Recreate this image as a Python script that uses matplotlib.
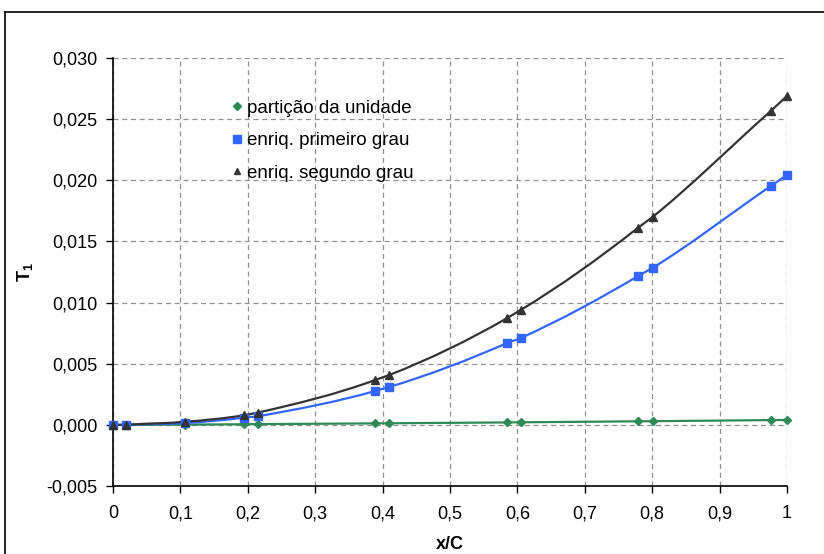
import matplotlib
matplotlib.use("Agg")
import matplotlib.pyplot as plt
from matplotlib.path import Path
from matplotlib.patches import PathPatch
from matplotlib.lines import Line2D
from matplotlib.ticker import FuncFormatter, MultipleLocator

plt.rcParams['font.family'] = ['Liberation Sans', 'DejaVu Sans']

# data
x_pos = [0.0, 0.02, 0.107, 0.195, 0.215, 0.389, 0.41, 0.585, 0.605, 0.779, 0.801, 0.976, 1.0]
t_particao = [0.0, 0.0, 0.00002, 0.00005, 0.00006, 0.00012, 0.00013, 0.00020, 0.00021, 0.00029, 0.00030, 0.00039, 0.00040]
t_primeiro = [0.0, 0.0, 0.00015, 0.0006, 0.0007, 0.00277, 0.0031, 0.0067, 0.0071, 0.01217, 0.01285, 0.01953, 0.02044]
t_segundo = [0.0, 0.0, 0.00025, 0.0008, 0.0010, 0.00367, 0.00408, 0.00874, 0.0094, 0.01612, 0.01702, 0.02567, 0.0269]
labels = ["partição da unidade", "enriq. primeiro grau", "enriq. segundo grau"]
colors = ["#2E8B57", "#3366FF", "#333333"]
markers = ["D", "s", "^"]
msizes = [4.5, 6, 5.5]

fig = plt.figure(figsize=(8.24, 5.54), dpi=100)
ax = fig.add_axes([113/824, 1-486/554, (787-113)/824, (486-58)/554])


def smooth_path(xs, ys):
    # smooth line drawn through the data points (cubic Hermite segments)
    n = len(xs)
    m = []
    for i in range(n):
        a = max(i - 2, 0)
        b = min(i + 2, n - 1)
        m.append((ys[b] - ys[a]) / (xs[b] - xs[a]))
    verts = [(xs[0], ys[0])]
    codes = [Path.MOVETO]
    for i in range(n - 1):
        h = xs[i + 1] - xs[i]
        c1 = (xs[i] + h / 3, ys[i] + m[i] * h / 3)
        c2 = (xs[i + 1] - h / 3, ys[i + 1] - m[i + 1] * h / 3)
        verts += [c1, c2, (xs[i + 1], ys[i + 1])]
        codes += [Path.CURVE4] * 3
    return Path(verts, codes)


series = [t_particao, t_primeiro, t_segundo]
handles = []
for ys, c, mk, ms, lab in zip(series, colors, markers, msizes, labels):
    ax.add_patch(PathPatch(smooth_path(x_pos, ys), fill=False, edgecolor=c, lw=1.6, zorder=3))
    ax.plot(x_pos, ys, linestyle='none', marker=mk, color=c, markersize=ms, zorder=4, clip_on=False)
    handles.append(Line2D([], [], linestyle='none', marker=mk, color=c, markersize=ms * 0.85, label=lab))

ax.set_xlim(0, 1)
ax.set_ylim(-0.005, 0.030)
ax.xaxis.set_major_locator(MultipleLocator(0.1))
ax.yaxis.set_major_locator(MultipleLocator(0.005))


def fx(v, p):
    s = "%.1f" % v
    if s.endswith(".0"):
        s = s[:-2]
    return s.replace(".", ",")


def fy(v, p):
    s = "%.3f" % v
    if s == "-0.000":
        s = "0.000"
    return s.replace(".", ",")


ax.xaxis.set_major_formatter(FuncFormatter(fx))
ax.yaxis.set_major_formatter(FuncFormatter(fy))
ax.tick_params(axis='both', labelsize=13, direction='out', length=5, width=1, colors='black')
ax.tick_params(axis='x', pad=9)
ax.tick_params(axis='y', pad=6)
ax.grid(True, linestyle=(0, (4, 3)), color='#909090', lw=0.9)
for s in ['top', 'right']:
    ax.spines[s].set_visible(False)
for s in ['left', 'bottom']:
    ax.spines[s].set_linewidth(1.2)
    ax.spines[s].set_color('black')

ax.set_xlabel("x/C", fontsize=13, fontweight='bold', labelpad=10)
ax.set_ylabel("T$_\\mathregular{1}$", fontsize=13, fontweight='bold', labelpad=8)

leg = ax.legend(handles=handles, loc='upper left', bbox_to_anchor=(0.176, 0.903), frameon=False,
                fontsize=13.5, handlelength=0.6, handletextpad=0.2, labelspacing=0.82,
                borderpad=0, borderaxespad=0)

# outer border of the chart area
fig.add_artist(Line2D([5/824, 5/824], [0, 1-12/554], transform=fig.transFigure, color='black', lw=1.2))
fig.add_artist(Line2D([5/824, 1], [1-12/554, 1-12/554], transform=fig.transFigure, color='black', lw=1.2))

fig.savefig("out.png", dpi=100)
